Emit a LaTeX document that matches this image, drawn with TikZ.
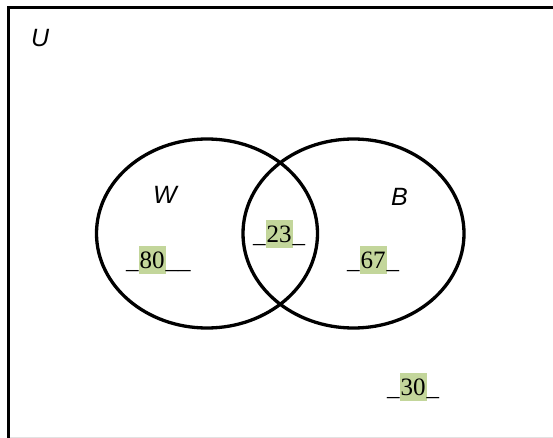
\documentclass[tikz,border=0pt]{standalone}
\usepackage{fontspec}
\setmainfont{Liberation Serif}
\newfontfamily\labelfont{Liberation Sans}
\usetikzlibrary{shapes.geometric}
\definecolor{hlgreen}{HTML}{C3D69B}
\definecolor{framegray}{HTML}{E2E2E2}
\newcommand\hlnum[1]{{\setlength\fboxsep{0pt}\colorbox{hlgreen}{\rule[-6pt]{0pt}{28pt}\kern1pt#1\kern1pt}}}
\tikzset{
  setring/.style={draw, ellipse, line width=3.3pt, minimum width=221pt, minimum height=189pt, inner sep=0pt},
  setlabel/.style={anchor=base west, inner sep=0pt, font=\labelfont\itshape\fontsize{25}{30}\selectfont},
  numlabel/.style={anchor=base west, inner sep=0pt, font=\fontsize{25}{29}\selectfont},
}
\begin{document}
\begin{tikzpicture}[x=1pt,y=-1pt]
\fill[white] (0,0) rectangle (553,438);
\useasboundingbox (0,0) rectangle (553,438);
\draw[framegray, line width=1pt] (10,437) -- (553,437);
\draw[line width=3pt] (553,7.5) -- (8.5,7.5) -- (8.5,438);
\node[setring] (Wset) at (207,233.5) {};
\node[setring] (Bset) at (353.5,233.5) {};
\node[setlabel] (U) at (31,47) {U};
\node[setlabel] (W) at (153,204) {W};
\node[setlabel] (B) at (391,205) {B};
\node[numlabel] (n80) at (126,268) {\_\hlnum{80}\_\_};
\node[numlabel] (n23) at (253,242) {\_\hlnum{23}\_};
\node[numlabel] (n67) at (347,268) {\_\hlnum{67}\_};
\node[numlabel] (n30) at (387,395) {\_\hlnum{30}\_};
\end{tikzpicture}
\end{document}
